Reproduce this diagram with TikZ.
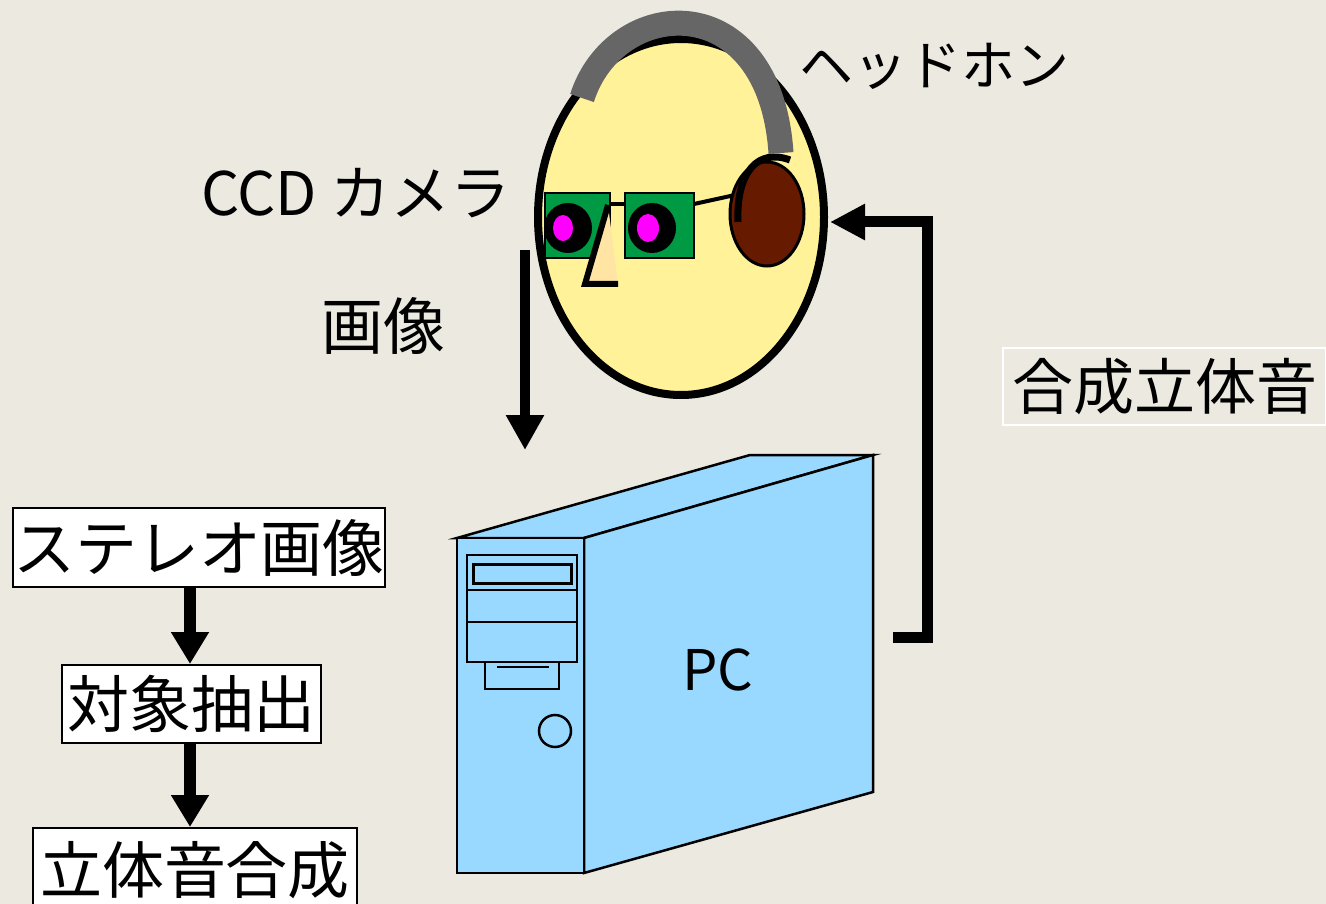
\documentclass[tikz,border=0pt]{standalone}
\usepackage{fontspec}
\setmainfont{Noto Sans CJK JP}
\usetikzlibrary{arrows.meta}
\definecolor{paper}{RGB}{236,234,224}
\definecolor{skin}{RGB}{255,242,153}
\definecolor{lens}{RGB}{0,153,68}
\definecolor{pupil}{RGB}{255,0,255}
\definecolor{nosetan}{RGB}{255,228,163}
\definecolor{cupbrown}{RGB}{102,26,0}
\definecolor{bandgray}{RGB}{102,102,102}
\definecolor{casing}{RGB}{153,217,255}
\begin{document}
\begin{tikzpicture}[x=1pt,y=-1pt,
	txt/.style={inner sep=0pt,font=\fontsize{#1}{#1}\selectfont},
	flowbox/.style={draw=black,line width=2pt,fill=white,inner sep=0pt,font=\fontsize{62}{62}\selectfont},
	flowarrow/.style={line width=12pt,-{Triangle[length=32pt,width=36pt]}},
	pcline/.style={draw=black,line width=2.5pt}]
	\fill[paper] (0,0) rectangle (1326,904);
	\clip (0,0) rectangle (1326,904);
	\useasboundingbox (0,0) rectangle (1326,904);
	\draw[line width=8pt,fill=skin] (681,217) ellipse (143pt and 178pt);
	\draw[line width=2pt,fill=lens] (545,193) rectangle (610,258);
	\draw[line width=2pt,fill=lens] (625,193) rectangle (694,258);
	\fill[black] (568,228) ellipse (24pt and 25pt);
	\fill[black] (652,228) ellipse (24pt and 25pt);
	\fill[pupil] (563,228) ellipse (10pt and 13pt);
	\fill[pupil] (648,228) ellipse (11pt and 14pt);
	\draw[line width=4pt] (610,204) -- (625,204);
	\draw[line width=4pt] (694,204) -- (735,195);
	\fill[nosetan] (608,205) -- (618,284) -- (585,284) -- cycle;
	\draw[line width=6pt] (608,205) -- (585,284) -- (618,284);
	\draw[line width=3pt,fill=cupbrown] (767,214) ellipse (37pt and 52pt);
	\draw[line width=7pt] (738,222) .. controls (736,172) and (758,148) .. (790,160);
	\draw[line width=25pt,bandgray] (582,98) .. controls (615,-5) and (770,-15) .. (781,153);
	\node[txt=54] (phones) at (934,66) {ヘッドホン};
	\node[txt=60] (camera) at (356,193) {CCD カメラ};
	\node[txt=62] (image) at (383,326) {画像};
	\node[txt=61,draw=white,line width=1.5pt,minimum width=323pt,minimum height=77pt] (sound) at (1164.5,386.5) {合成立体音};
	\fill[casing,pcline] (457,538) -- (750,455) -- (873,455) -- (584,538) -- cycle;
	\fill[casing,pcline] (584,538) -- (873,455) -- (873,792) -- (584,873) -- cycle;
	\fill[casing,pcline] (457,538) rectangle (584,873);
	\draw[pcline] (467,555) rectangle (577,662);
	\draw[line width=3pt] (473,564) rectangle (571,583);
	\draw[pcline] (467,590) -- (577,590);
	\draw[pcline] (467,622) -- (577,622);
	\draw[pcline] (485,662) rectangle (559,689);
	\draw[line width=2pt] (497,667) -- (549,667);
	\draw[pcline] (555,731) circle (16pt);
	\node[txt=56] (pc) at (718,670) {PC};
	\coordinate (camout) at (525,250);
	\coordinate (pcin) at (525,450);
	\draw[line width=10pt,-{Triangle[length=35pt,width=36pt]}] (camout) -- (pcin);
	\coordinate (pcout) at (893,637);
	\coordinate (turn) at (927,222);
	\coordinate (ear) at (830,222);
	\draw[line width=11pt,-{Triangle[length=35pt,width=34pt]}] (pcout) -| (turn) -- (ear);
	\node[flowbox,minimum width=368pt,minimum height=79pt] (stereo) at (199,547.5) {ステレオ画像};
	\node[flowbox,minimum width=259pt,minimum height=78pt] (extract) at (191.5,704) {対象抽出};
	\node[flowbox,minimum width=324pt,minimum height=84pt] (synth) at (195,870) {立体音合成};
	\draw[flowarrow] (stereo.south -| 190,0) -- (extract.north -| 190,0);
	\draw[flowarrow] (extract.south -| 190,0) -- (synth.north -| 190,0);
\end{tikzpicture}
\end{document}
